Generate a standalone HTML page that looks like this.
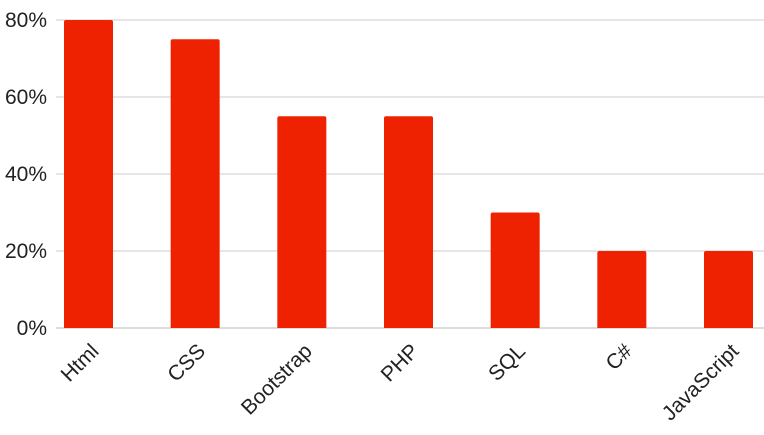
<!DOCTYPE html>
<html><head><meta charset="utf-8"><style>
html,body{margin:0;padding:0;background:#fff;}
svg{display:block;font-family:"Liberation Sans",sans-serif;}
</style></head><body>
<svg id="chart" width="764" height="435" viewBox="0 0 764 435"></svg>
<script>
const categories=["Html","CSS","Bootstrap","PHP","SQL","C#","JavaScript"];
const values=[80,75,55,55,30,20,20];
const ticks=[0,20,40,60,80];
const ns="http://www.w3.org/2000/svg";
const svg=document.getElementById("chart");
const x0=56,x1=764,y0=328,pxPer=77/20;
const firstCenter=88.5,step=640/6;
const y=v=>y0-v*pxPer;
const xc=i=>firstCenter+step*i;
function mk(t,a){const e=document.createElementNS(ns,t);for(const k in a)e.setAttribute(k,a[k]);svg.appendChild(e);return e;}
ticks.forEach(t=>{
  const l=mk("line",{x1:x0,x2:x1,y1:y(t),y2:y(t),stroke:t===0?"#bbb":"#ccc","stroke-width":1});
  
  
  const tx=mk("text",{x:47,y:y(t)+7,"text-anchor":"end","font-size":21,fill:"#222"});
  tx.textContent=t+"%";
  
  
});
categories.forEach((c,i)=>{
  const w=49;
  const l=xc(i)-w/2,r=xc(i)+w/2,top=y(values[i]);
  const b=mk("path",{d:`M${l},${y0} V${top+2} Q${l},${top} ${l+2},${top} H${r-2} Q${r},${top} ${r},${top+2} V${y0} Z`,fill:"#ee2200"});
  
  
  const ax=xc(i)+1,ay=342;
  const t=mk("text",{x:ax,y:ay,"text-anchor":"end","font-size":21,fill:"#222",transform:`rotate(-45 ${ax} ${ay})`});
  t.setAttribute("dy","0.7em");
  t.textContent=c;
  
  
});
</script>
</body></html>
